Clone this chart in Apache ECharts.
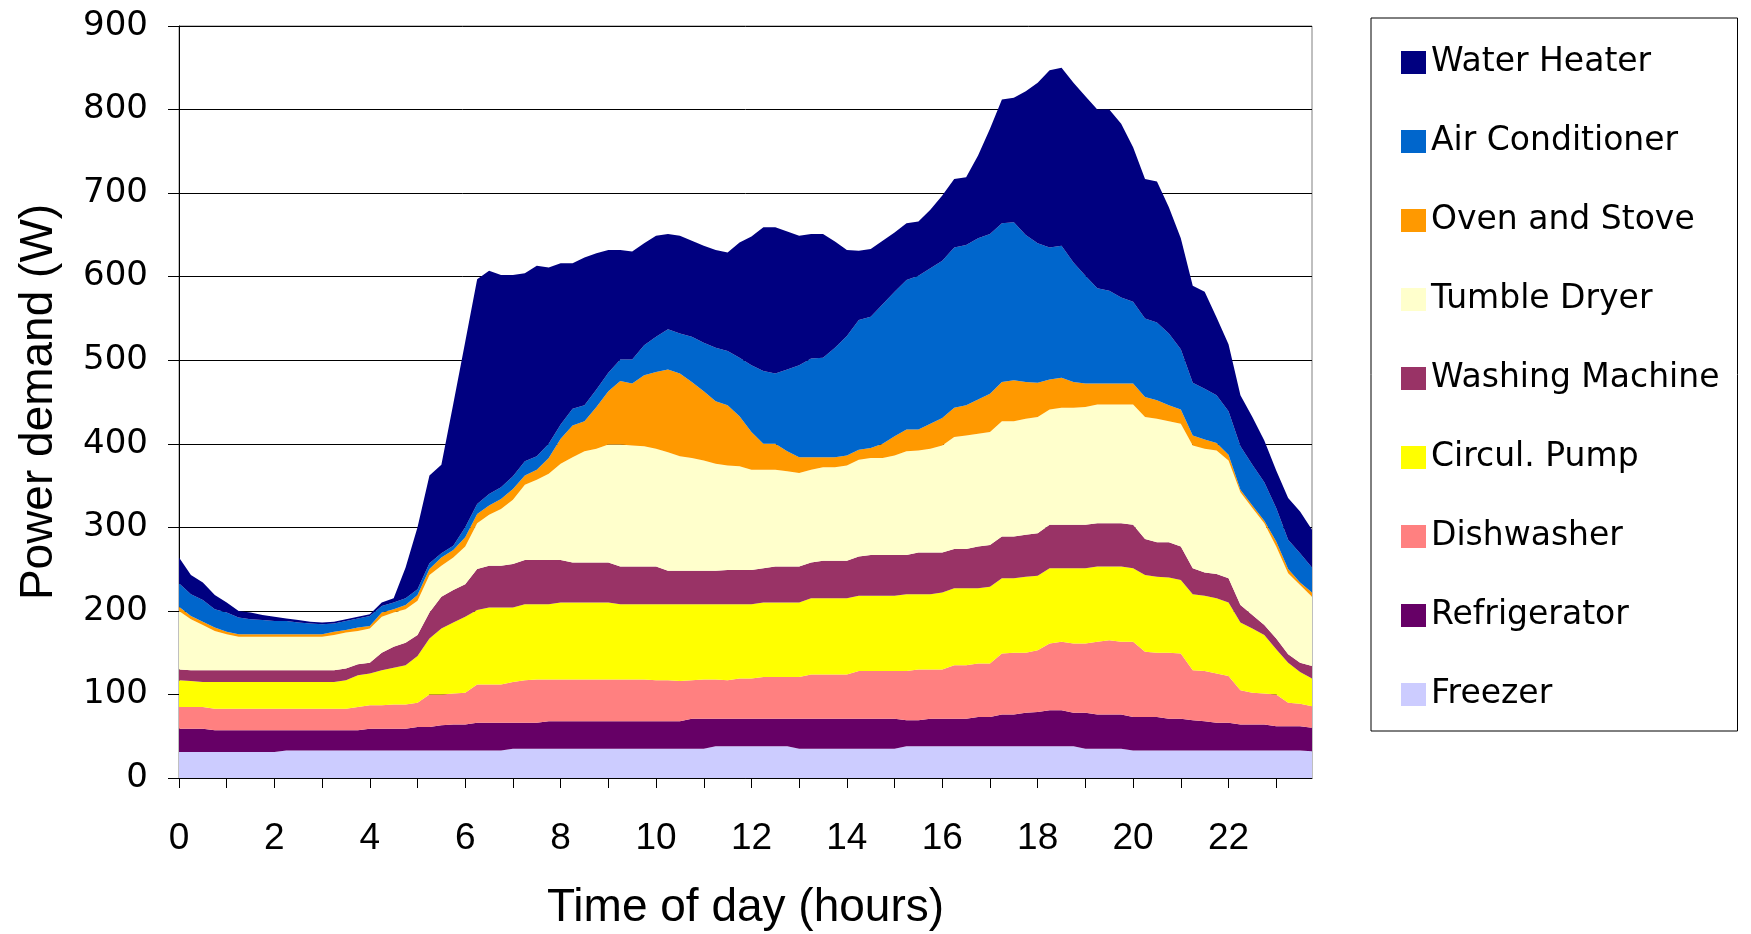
<!DOCTYPE html>
<html>
<head>
<meta charset="utf-8">
<script src="https://cdn.jsdelivr.net/npm/echarts@6/dist/echarts.min.js"></script>
<style>
html,body{margin:0;padding:0;background:#fff;}
#chart{width:1751px;height:934px;}
</style>
</head>
<body>
<div id="chart"></div>
<script>
// Time of day in hours (15-minute steps)
const hours = ['0','0.25','0.5','0.75','1','1.25','1.5','1.75','2','2.25','2.5','2.75','3','3.25','3.5','3.75',
'4','4.25','4.5','4.75','5','5.25','5.5','5.75','6','6.25','6.5','6.75','7','7.25','7.5','7.75',
'8','8.25','8.5','8.75','9','9.25','9.5','9.75','10','10.25','10.5','10.75','11','11.25','11.5','11.75',
'12','12.25','12.5','12.75','13','13.25','13.5','13.75','14','14.25','14.5','14.75','15','15.25','15.5','15.75',
'16','16.25','16.5','16.75','17','17.25','17.5','17.75','18','18.25','18.5','18.75','19','19.25','19.5','19.75',
'20','20.25','20.5','20.75','21','21.25','21.5','21.75','22','22.25','22.5','22.75','23','23.25','23.5','23.75'];

const yTicks = [0,100,200,300,400,500,600,700,800,900];

const freezer = [31,31,31,31,31,31,31,31,31,33,33,33,33,33,33,33,33,33,33,33,33,33,33,33,33,33,33,33,
35,35,35,35,35,35,35,35,35,35,35,35,35,35,35,35,35,38,38,38,38,38,38,38,35,35,35,35,35,35,35,35,35,
38,38,38,38,38,38,38,38,38,38,38,38,38,38,38,35,35,35,35,33,33,33,33,33,33,33,33,33,33,33,33,33,33,33,32];

const refrigerator = [28,28,28,26,26,26,26,26,26,24,24,24,24,24,24,24,26,26,26,26,28,28,30,31,31,33,33,33,
31,31,31,33,33,33,33,33,33,33,33,33,33,33,33,36,36,33,33,33,33,33,33,33,36,36,36,36,36,36,36,36,36,
31,31,33,33,33,33,35,35,38,38,40,41,43,43,40,43,41,41,41,40,40,40,38,38,36,35,33,33,31,31,31,29,29,29,28];

const dishwasher = [26,26,26,26,26,26,26,26,26,26,26,26,26,26,26,28,28,28,29,29,29,39,37,37,38,46,46,46,
49,51,52,50,50,50,50,50,50,50,50,50,49,49,48,46,47,47,46,48,48,50,50,50,50,53,53,53,53,57,57,57,57,
59,61,59,59,64,64,64,64,73,74,72,74,80,82,83,83,87,89,87,90,78,77,79,78,60,60,59,56,41,38,37,38,28,27,26];

const circulPump = [32,31,30,32,32,32,32,32,32,32,32,32,32,32,34,38,38,42,44,47,56,67,79,85,91,89,92,92,
89,91,90,90,92,92,92,92,92,90,90,90,91,91,92,91,90,90,91,89,89,89,89,89,89,91,91,91,91,90,90,90,90,
92,90,90,92,92,92,90,92,90,89,91,89,90,88,90,90,90,88,90,88,92,91,90,88,91,90,90,88,81,77,70,54,48,38,33];

const washingMachine = [13,13,14,14,14,14,14,14,14,14,14,14,14,14,14,13,13,21,25,27,25,31,38,39,39,49,50,50,
52,53,53,53,51,48,48,48,48,45,45,45,45,40,40,40,40,40,41,41,41,41,43,43,43,43,45,45,45,47,49,49,49,
47,50,50,48,47,47,50,50,50,50,50,51,52,52,52,52,52,52,52,52,43,41,42,40,31,28,29,29,21,16,12,13,10,11,15];

const tumbleDryer = [70,61,54,47,43,40,40,40,40,40,40,40,40,42,43,40,41,43,41,40,41,45,37,39,45,55,61,68,
77,90,96,103,115,126,133,136,141,146,145,144,141,142,137,135,132,128,125,124,120,118,116,114,112,111,112,112,114,116,116,116,119,
124,122,124,128,134,136,135,135,138,138,139,139,138,140,140,141,142,142,142,144,146,148,145,147,147,148,148,141,135,128,122,110,97,93,83];

const ovenStove = [5,4,4,4,3,3,3,3,3,3,3,3,3,4,3,4,3,5,4,5,7,7,10,9,11,11,11,12,
13,11,12,19,30,38,36,50,64,76,74,85,92,99,99,91,83,75,72,60,45,31,31,24,19,15,12,12,12,12,12,17,23,
26,25,30,33,35,36,41,46,47,49,44,41,36,36,31,28,25,25,25,25,24,22,19,17,12,11,9,7,3,3,3,6,5,3,5];

const airConditioner = [28,26,26,22,23,20,18,17,16,16,14,13,12,10,11,11,12,8,8,8,7,7,5,5,12,12,14,14,
15,17,16,17,17,20,19,21,22,26,29,36,42,48,48,54,58,64,65,70,80,87,84,98,110,118,119,131,143,155,157,167,173,
179,184,186,188,192,192,193,191,190,189,176,167,158,158,143,129,114,111,103,98,94,93,86,72,63,61,57,52,52,49,46,40,35,35,30];

const waterHeater = [31,23,21,17,12,8,8,6,5,3,3,2,2,2,2,2,2,4,5,37,74,105,106,170,222,269,267,254,
241,225,228,211,193,174,177,163,147,131,129,122,121,114,117,115,116,117,118,138,154,172,175,165,155,149,148,127,103,83,81,76,71,
68,65,70,78,82,81,99,126,148,149,172,192,212,213,215,215,214,217,208,185,167,169,151,133,116,116,93,80,61,57,50,45,50,50,45];

const seriesDefs = [
  {name:'Freezer', color:'#CCCCFF', data:freezer},
  {name:'Refrigerator', color:'#660066', data:refrigerator},
  {name:'Dishwasher', color:'#FF8080', data:dishwasher},
  {name:'Circul. Pump', color:'#FFFF00', data:circulPump},
  {name:'Washing Machine', color:'#993366', data:washingMachine},
  {name:'Tumble Dryer', color:'#FFFFCC', data:tumbleDryer},
  {name:'Oven and Stove', color:'#FF9900', data:ovenStove},
  {name:'Air Conditioner', color:'#0066CC', data:airConditioner},
  {name:'Water Heater', color:'#000080', data:waterHeater}
];

const chart = echarts.init(document.getElementById('chart'), null, {renderer:'canvas'});
chart.setOption({
  animation:false,
  backgroundColor:'#ffffff',
  grid:{left:179, right:439, top:26, bottom:156, containLabel:false, outerBoundsMode:'none',
        show:true, borderColor:'#808080', borderWidth:1, backgroundColor:'#ffffff'},
  legend:{
    orient:'vertical', left:1371, top:18,
    padding:[28,18,20,30],
    itemWidth:25, itemHeight:23, itemGap:46, itemTextGap:11,
    icon:'rect',
    borderColor:'#000', borderWidth:1,
    data:seriesDefs.slice().reverse().map(s=>s.name),
    textStyle:{fontFamily:'DejaVu Sans', fontSize:33, lineHeight:33, color:'#000'}
  },
  xAxis:{
    type:'category', data:hours, boundaryGap:false,
    name:'Time of day (hours)', nameLocation:'middle', nameGap:107,
    nameTextStyle:{fontFamily:'Liberation Sans', fontSize:46, color:'#000'},
    axisLine:{lineStyle:{color:'#000', width:1}},
    axisTick:{show:true, interval:3, length:10, inside:false, lineStyle:{color:'#000'}},
    axisLabel:{interval:7, margin:42, fontFamily:'Liberation Sans', fontSize:37, color:'#000'},
    splitLine:{show:false}
  },
  yAxis:{
    type:'value', min:yTicks[0], max:yTicks[yTicks.length-1], interval:100,
    name:'Power demand (W)', nameLocation:'middle', nameGap:117, nameRotate:90,
    nameTextStyle:{fontFamily:'Liberation Sans', fontSize:46, color:'#000'},
    axisLine:{show:true, lineStyle:{color:'#000', width:1}},
    axisTick:{show:true, length:11, inside:false, lineStyle:{color:'#000'}},
    axisLabel:{margin:31, fontFamily:'DejaVu Sans', fontSize:34, color:'#000'},
    splitLine:{show:true, lineStyle:{color:'#000', width:1}}
  },
  series: seriesDefs.map(s=>({
    name:s.name, type:'line', stack:'total', data:s.data,
    symbol:'none', showSymbol:false, smooth:false,
    itemStyle:{color:s.color},
    lineStyle:{width:0, opacity:0, color:s.color},
    areaStyle:{color:s.color, opacity:1},
    emphasis:{disabled:true}
  }))
});
</script>
</body>
</html>
